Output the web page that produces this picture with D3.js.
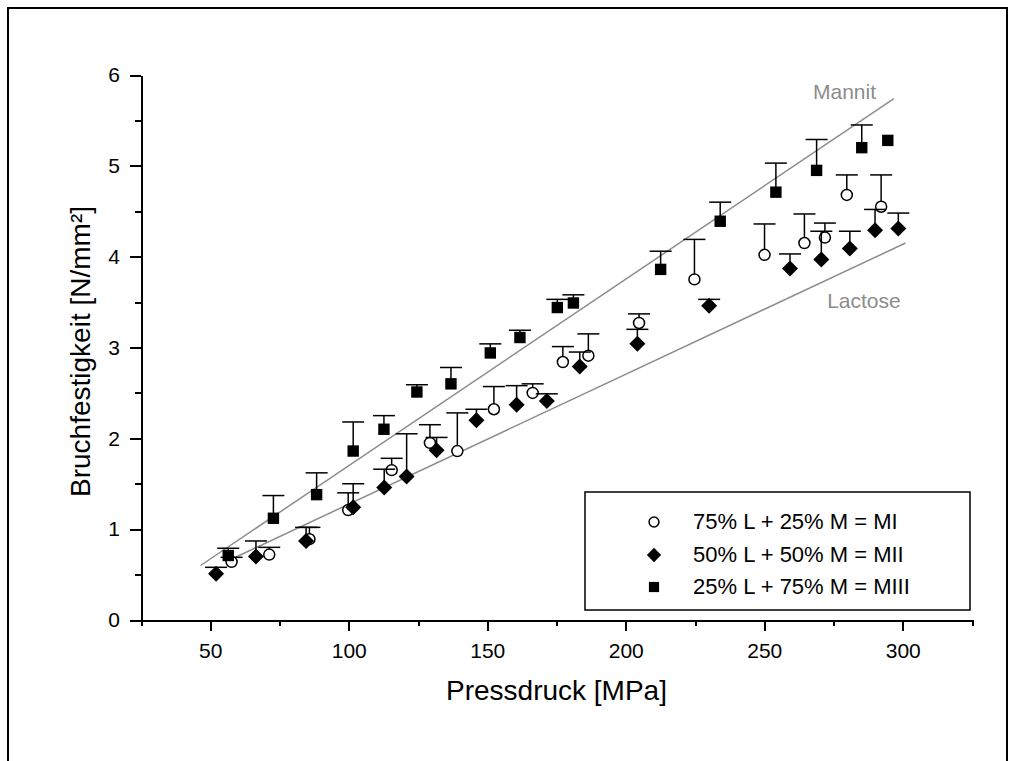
<!DOCTYPE html>
<html lang="de">
<head>
<meta charset="utf-8">
<title>Bruchfestigkeit / Pressdruck</title>
<style>
  body { margin: 0; background: white; font-family: Arial, "Liberation Sans", sans-serif; }
  svg { display: block; background: white; }
  .axis path, .axis line { stroke: black; stroke-width: 2; fill: none; shape-rendering: crispEdges; }
  .axis text { font-family: Arial, "Liberation Sans", sans-serif; font-size: 21px; fill: black; }
  .title { font-size: 28px; fill: black; }
  .fit { stroke: #8c8c8c; stroke-width: 1.5; fill: none; }
  .fitlabel { font-size: 21px; fill: #8c8c8c; }
  .err line { stroke: black; stroke-width: 1.5; }
  .legend text { font-size: 22px; fill: black; }
</style>
</head>
<body>
<script src="https://cdnjs.cloudflare.com/ajax/libs/d3/7.8.5/d3.min.js"></script>
<script>

// ---- data ----
var miX   = [57.7, 71.3, 85.8, 99.8, 115.5, 129.3, 139.2, 152.4, 166.4, 177.3, 186.5, 204.8, 224.8, 250.1, 264.5, 271.9, 279.8, 292.2];
var miY   = [0.64, 0.72, 0.89, 1.21, 1.65, 1.95, 1.86, 2.32, 2.50, 2.84, 2.91, 3.27, 3.75, 4.02, 4.15, 4.21, 4.68, 4.55];
var miSd  = [0.05, 0.08, 0.13, 0.19, 0.13, 0.20, 0.42, 0.25, 0.10, 0.17, 0.24, 0.10, 0.44, 0.34, 0.32, 0.16, 0.22, 0.35];

var miiX  = [52.1, 66.5, 84.6, 101.6, 112.8, 120.9, 131.7, 146.1, 160.6, 171.5, 183.4, 204.2, 230.1, 259.3, 270.6, 280.9, 290.0, 298.4];
var miiY  = [0.51, 0.70, 0.87, 1.24, 1.46, 1.58, 1.87, 2.20, 2.37, 2.41, 2.79, 3.04, 3.46, 3.87, 3.97, 4.09, 4.29, 4.31];
var miiSd = [0.07, 0.17, 0.15, 0.26, 0.20, 0.47, 0.14, 0.12, 0.21, 0.08, 0.16, 0.16, 0.07, 0.16, 0.31, 0.19, 0.23, 0.17];

var miiiX  = [56.5, 72.8, 88.4, 101.6, 112.7, 124.6, 136.9, 151.1, 161.8, 175.3, 181.1, 212.6, 234.1, 254.2, 268.9, 285.2, 294.6];
var miiiY  = [0.71, 1.12, 1.38, 1.86, 2.10, 2.51, 2.60, 2.94, 3.11, 3.44, 3.49, 3.86, 4.39, 4.71, 4.95, 5.20, 5.28];
var miiiSd = [0.08, 0.25, 0.24, 0.32, 0.15, 0.08, 0.18, 0.10, 0.08, 0.09, 0.09, 0.20, 0.21, 0.32, 0.34, 0.25, 0];

// reference lines of the pure substances
var mannitLine  = [[46.5, 0.60], [296.8, 5.74]];
var lactoseLine = [[57.0, 0.66], [301.0, 4.15]];
var lineLabels  = ["Mannit", "Lactose"];
var lineLabelPos = [[267.6, 5.74], [272.7, 3.43]];

var seriesNames = ["75% L + 25% M = MI", "50% L + 50% M = MII", "25% L + 75% M = MIII"];
var xTicks = [50, 100, 150, 200, 250, 300];
var yTicks = [0, 1, 2, 3, 4, 5, 6];

// ---- layout ----
var fullwidth = 1015, fullheight = 761;
var plotLeft = 141, plotRight = 972, plotTop = 75, plotBottom = 620;

var svg = d3.select("body").append("svg")
    .attr("width", fullwidth)
    .attr("height", fullheight);

// page frame
svg.append("path")
    .attr("d", "M8,761 V8 H1007 V761")
    .attr("fill", "none")
    .attr("stroke", "black")
    .attr("stroke-width", 2);

var xScale = d3.scaleLinear().domain([25, 325]).range([plotLeft, plotRight]);
var yScale = d3.scaleLinear().domain([0, 6]).range([plotBottom, plotTop]);

// minor ticks first, then the major axis on top
svg.append("g")
    .attr("class", "x axis")
    .attr("transform", "translate(0," + plotBottom + ")")
    .call(d3.axisBottom(xScale).tickValues(d3.range(25, 326, 50)).tickSize(6).tickFormat("").tickSizeOuter(0));
svg.append("g")
    .attr("class", "x axis")
    .attr("transform", "translate(0," + plotBottom + ")")
    .call(d3.axisBottom(xScale).tickValues(xTicks).tickSize(11).tickPadding(12).tickSizeOuter(0));

svg.append("g")
    .attr("class", "y axis")
    .attr("transform", "translate(" + plotLeft + ",0)")
    .call(d3.axisLeft(yScale).tickValues(d3.range(0.5, 6, 1)).tickSize(6).tickFormat("").tickSizeOuter(0));
svg.append("g")
    .attr("class", "y axis")
    .attr("transform", "translate(" + plotLeft + ",0)")
    .call(d3.axisLeft(yScale).tickValues(yTicks).tickFormat(d3.format("d")).tickSize(11).tickPadding(10).tickSizeOuter(0));

// axis titles
svg.append("text")
    .attr("class", "title")
    .attr("x", (plotLeft + plotRight) / 2)
    .attr("y", 700)
    .style("text-anchor", "middle")
    .text("Pressdruck [MPa]");

svg.append("text")
    .attr("class", "title")
    .attr("transform", "translate(90," + ((plotTop + plotBottom) / 2 + 4) + ") rotate(-90)")
    .style("text-anchor", "middle")
    .text("Bruchfestigkeit [N/mm²]");

// fit lines
var line = d3.line()
    .x(function(d) { return xScale(d[0]); })
    .y(function(d) { return yScale(d[1]); });

[mannitLine, lactoseLine].forEach(function(l) {
    svg.append("path").attr("class", "fit").attr("d", line(l));
});

svg.selectAll("text.fitlabel")
    .data(lineLabels)
    .enter()
    .append("text")
    .attr("class", "fitlabel")
    .attr("x", function(d, i) { return xScale(lineLabelPos[i][0]); })
    .attr("y", function(d, i) { return yScale(lineLabelPos[i][1]); })
    .text(function(d) { return d; });

// markers (diamond = square turned by 45 degrees)
var symbols = [
    { type: d3.symbolCircle, size: 95,  rot: 0,  fill: "white", stroke: "black", sw: 1.5 },
    { type: d3.symbolSquare, size: 128, rot: 45, fill: "black", stroke: "none",  sw: 0 },
    { type: d3.symbolSquare, size: 130, rot: 0,  fill: "black", stroke: "none",  sw: 0 }
];

function makeRows(xs, ys, sds) {
    return xs.map(function(x, i) { return { x: x, y: ys[i], sd: sds[i] }; });
}

var allSeries = [
    makeRows(miX, miY, miSd),
    makeRows(miiX, miiY, miiSd),
    makeRows(miiiX, miiiY, miiiSd)
];

var capHalf = 11;

allSeries.forEach(function(rows, s) {
    var g = svg.append("g").attr("class", "series");

    var err = g.append("g").attr("class", "err")
        .selectAll("g")
        .data(rows.filter(function(d) { return d.sd > 0; }))
        .enter()
        .append("g");

    err.append("line")
        .attr("x1", function(d) { return xScale(d.x); })
        .attr("x2", function(d) { return xScale(d.x); })
        .attr("y1", function(d) { return yScale(d.y); })
        .attr("y2", function(d) { return yScale(d.y + d.sd); });

    err.append("line")
        .attr("x1", function(d) { return xScale(d.x) - capHalf; })
        .attr("x2", function(d) { return xScale(d.x) + capHalf; })
        .attr("y1", function(d) { return yScale(d.y + d.sd); })
        .attr("y2", function(d) { return yScale(d.y + d.sd); });

    var sym = symbols[s];
    g.selectAll("path.dot")
        .data(rows)
        .enter()
        .append("path")
        .attr("class", "dot")
        .attr("d", d3.symbol().type(sym.type).size(sym.size))
        .attr("transform", function(d) {
            return "translate(" + xScale(d.x) + "," + yScale(d.y) + ") rotate(" + sym.rot + ")";
        })
        .attr("fill", sym.fill)
        .attr("stroke", sym.stroke)
        .attr("stroke-width", sym.sw);
});

// legend
var legend = svg.append("g").attr("class", "legend");

legend.append("rect")
    .attr("x", 585)
    .attr("y", 492)
    .attr("width", 385)
    .attr("height", 118)
    .attr("fill", "white")
    .attr("stroke", "black")
    .attr("stroke-width", 1.5);

var rowY = [522, 555, 587];

legend.selectAll("path")
    .data(seriesNames)
    .enter()
    .append("path")
    .attr("d", function(d, i) { return d3.symbol().type(symbols[i].type).size(symbols[i].size * 0.8)(); })
    .attr("transform", function(d, i) { return "translate(654," + rowY[i] + ") rotate(" + symbols[i].rot + ")"; })
    .attr("fill", function(d, i) { return symbols[i].fill; })
    .attr("stroke", function(d, i) { return symbols[i].stroke; })
    .attr("stroke-width", function(d, i) { return symbols[i].sw; });

legend.selectAll("text")
    .data(seriesNames)
    .enter()
    .append("text")
    .attr("x", 693)
    .attr("y", function(d, i) { return rowY[i] + 7; })
    .text(function(d) { return d; });

</script>
</body>
</html>
